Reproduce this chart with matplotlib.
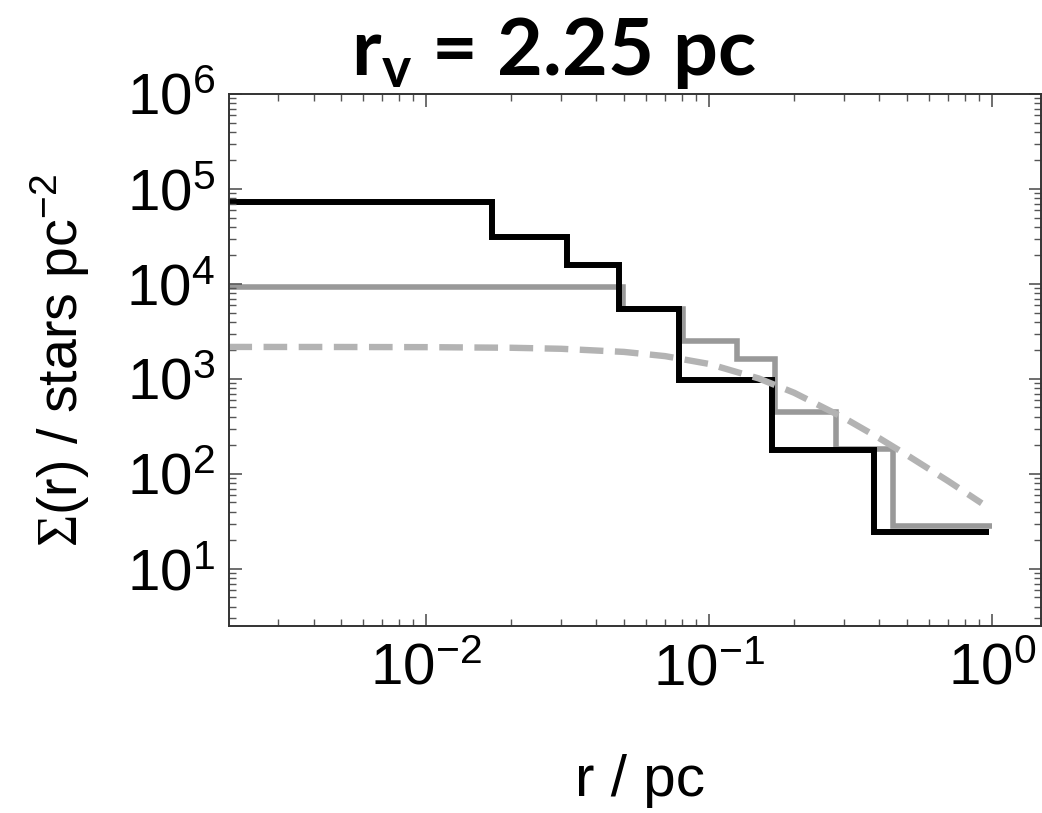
import numpy as np
import matplotlib
matplotlib.use("Agg")
import matplotlib.pyplot as plt
from matplotlib.ticker import LogLocator, LogFormatterMathtext, NullFormatter

plt.rcParams["font.family"] = ["Liberation Sans", "DejaVu Sans"]
plt.rcParams["mathtext.fontset"] = "custom"
plt.rcParams["mathtext.rm"] = "Liberation Sans"
plt.rcParams["mathtext.it"] = "Liberation Sans:italic"
plt.rcParams["mathtext.bf"] = "Liberation Serif"  # used for the serif Sigma

# black histogram (bin edges in pc, surface density)
black_edges = [0.001, 0.0171, 0.0315, 0.0481, 0.0783, 0.167, 0.383, 0.976]
black_vals = [73000, 31300, 15800, 5460, 975, 179, 24.5]

# grey histogram
grey_edges = [0.001, 0.0497, 0.081, 0.1256, 0.171, 0.281, 0.447, 1.0]
grey_vals = [9290, 5400, 2510, 1620, 450, 183, 28.4]

# dashed profile
prof_r = [0.002, 0.005, 0.01, 0.02, 0.03, 0.05, 0.07, 0.1, 0.15, 0.2, 0.3, 0.4, 0.5, 0.7, 0.92]
prof_s = [2170, 2167, 2159, 2127, 2075, 1924, 1736, 1437, 1010, 714, 388, 237, 158, 84, 49]

fig = plt.figure(figsize=(10.42, 8.13), dpi=100)
ax = fig.add_axes([0.2198, 0.230, 0.7792, 0.6544])

ax.plot(prof_r, prof_s, color="#b3b3b3", lw=4.6, dashes=(3.7, 1.8))
ax.stairs(grey_vals, grey_edges, color="#999999", lw=4.0, baseline=None)
ax.stairs(black_vals, black_edges, color="black", lw=4.3, baseline=None)

ax.set_xscale("log")
ax.set_yscale("log")
ax.set_xlim(0.00201, 1.49)
ax.set_ylim(2.5, 1e6)

for a in (ax.xaxis, ax.yaxis):
    a.set_major_locator(LogLocator(base=10, numticks=20))
    a.set_minor_locator(LogLocator(base=10, subs=np.arange(2, 10), numticks=20))
    a.set_major_formatter(LogFormatterMathtext())
    a.set_minor_formatter(NullFormatter())

ax.tick_params(which="both", direction="in", top=True, right=True, color="#555555")
ax.tick_params(which="major", length=9, width=1.2, labelsize=42)
ax.tick_params(which="minor", length=5, width=1.0)
ax.tick_params(axis="y", which="major", pad=10)
ax.tick_params(axis="x", which="major", pad=12)
for s in ax.spines.values():
    s.set_color("#333333")
    s.set_linewidth(1.4)

ax.set_xlabel("r / pc", fontsize=42)
ax.xaxis.set_label_coords(0.506, -0.24)
ax.set_ylabel(r"$\mathbf{\Sigma}$(r) / stars pc$^{-2}$", fontsize=40)
ax.yaxis.set_label_coords(-0.169, 0.5)

fig.text(554 / 1042, 0.9077, r"r$_\mathregular{v}$ = 2.25 pc", fontsize=57,
         fontfamily="Lato", fontweight="bold", ha="center", va="baseline")

fig.savefig("out.png", dpi=100)
